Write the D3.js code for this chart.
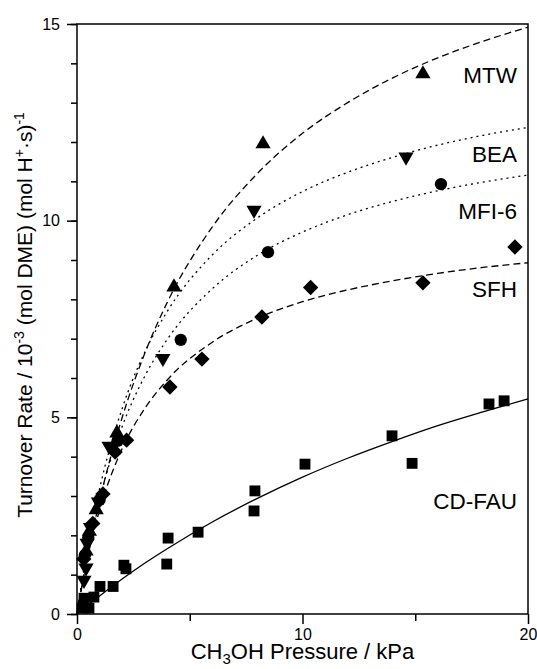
<!DOCTYPE html>
<html>
<head>
<meta charset="utf-8">
<script src="https://d3js.org/d3.v7.min.js"></script>
<style>
  body { margin: 0; background: #fff; }
  svg { display: block; font-family: "Liberation Sans", Arial, sans-serif; }
</style>
</head>
<body>
<div id="chart"></div>
<script>
// measured points (CH3OH pressure kPa, turnover rate 10^-3)
var mtwPts = [[0.4,1.6],[0.55,2.1],[0.85,2.65],[1.77,4.6],[4.3,8.31],[8.25,11.95],[15.34,13.73]];
var beaPts = [[0.31,0.86],[0.4,1.17],[0.45,1.8],[0.6,2.2],[0.95,2.85],[1.42,4.27],[3.81,6.5],[7.85,10.27],[14.59,11.62]];
var mfiPts = [[0.35,1.5],[0.5,1.95],[1.0,2.9],[1.8,4.4],[4.6,6.97],[8.47,9.2],[16.14,10.93]];
var sfhPts = [[0.3,1.4],[0.7,2.3],[1.15,3.05],[1.69,4.12],[2.2,4.42],[4.12,5.77],[5.54,6.48],[8.2,7.55],[10.36,8.3],[15.34,8.42],[19.42,9.33]];
var fauPts = [[0.22,0.15],[0.53,0.15],[0.31,0.4],[0.75,0.43],[1.02,0.7],[1.6,0.7],[2.08,1.24],[2.17,1.15],[3.98,1.27],[4.04,1.93],[5.37,2.08],[7.85,2.62],[7.89,3.13],[10.11,3.81],[13.97,4.53],[14.86,3.83],[18.27,5.34],[18.94,5.42]];

// fitted curves
var fitX   = [0, 0.25, 0.5, 1, 2, 3, 4, 6, 8, 10, 12, 14, 16, 18, 20];
var mtwFit = [0, 0.81, 1.55, 2.87, 4.99, 6.62, 7.92, 9.84, 11.2, 12.22, 13.0, 13.63, 14.14, 14.56, 14.92];
var beaFit = [0, 0.95, 1.79, 3.18, 5.22, 6.65, 7.69, 9.13, 10.07, 10.74, 11.23, 11.61, 11.92, 12.17, 12.37];
var mfiFit = [0, 0.87, 1.63, 2.91, 4.76, 6.04, 6.98, 8.27, 9.12, 9.71, 10.15, 10.49, 10.76, 10.98, 11.16];
var sfhFit = [0, 0.82, 1.52, 2.64, 4.2, 5.22, 5.95, 6.91, 7.52, 7.94, 8.24, 8.47, 8.66, 8.81, 8.93];
var fauFit = [0, 0.12, 0.235, 0.46, 0.89, 1.29, 1.66, 2.34, 2.94, 3.48, 3.96, 4.39, 4.79, 5.14, 5.47];

var xMajor = [0, 10, 20];
var xMinor = [5, 15];
var yMajor = [0, 5, 10, 15];
var yMinor = d3.range(0, 16);

var seriesNames = ["MTW", "BEA", "MFI-6", "SFH", "CD-FAU"];
var labelY = [13.5, 11.5, 10.05, 8.05, 2.67];

var W = 537, H = 669;
var margin = {top: 24, right: 9, bottom: 55, left: 77};
var width = W - margin.left - margin.right;
var height = H - margin.top - margin.bottom;

var svg = d3.select("#chart").append("svg")
    .attr("width", W)
    .attr("height", H);
var g = svg.append("g")
    .attr("transform", "translate(" + margin.left + "," + margin.top + ")");

var x = d3.scaleLinear().domain([0, 20]).range([0, width]);
var y = d3.scaleLinear().domain([0, 15]).range([height, 0]);

// axes
var yMin = g.append("g").call(d3.axisLeft(y).tickValues(yMinor).tickSize(6).tickFormat(""));
var yMaj = g.append("g").call(d3.axisLeft(y).tickValues(yMajor).tickSize(10).tickPadding(7).tickFormat(d3.format("d")));
var xMin = g.append("g").attr("transform", "translate(0," + height + ")")
    .call(d3.axisBottom(x).tickValues(xMinor).tickSize(7).tickFormat(""));
var xMaj = g.append("g").attr("transform", "translate(0," + height + ")")
    .call(d3.axisBottom(x).tickValues(xMajor).tickSize(10).tickPadding(5).tickFormat(d3.format("d")));

[yMin, yMaj, xMin, xMaj].forEach(function(a) {
  a.select(".domain").remove();
  a.selectAll("line").attr("stroke", "#000").attr("stroke-width", 1.5);
  a.selectAll("text").attr("font-size", 16).attr("fill", "#000")
    .attr("font-family", "Liberation Sans, Arial, sans-serif");
});

g.append("rect")
    .attr("width", width).attr("height", height)
    .attr("fill", "none").attr("stroke", "#000").attr("stroke-width", 1.5);

// fitted curves
var line = d3.line()
    .x(function(d) { return x(d[0]); })
    .y(function(d) { return y(d[1]); })
    .curve(d3.curveMonotoneX);

var fits = [mtwFit, beaFit, mfiFit, sfhFit, fauFit];
var dashes = ["7,4", "2,4", "2,4", "7,4", null];
fits.forEach(function(f, i) {
  g.append("path")
    .datum(fitX.map(function(v, j) { return [v, f[j]]; }))
    .attr("d", line)
    .attr("fill", "none")
    .attr("stroke", "#000")
    .attr("stroke-width", 1.3)
    .attr("stroke-dasharray", dashes[i]);
});

// markers
var symTri = d3.symbol().type(d3.symbolTriangle).size(100)();
var symCirc = d3.symbol().type(d3.symbolCircle).size(120)();
var symSq = d3.symbol().type(d3.symbolSquare).size(118)();

function drawPts(pts, path, rot) {
  g.selectAll(null).data(pts).enter().append("path")
    .attr("d", path)
    .attr("transform", function(d) {
      return "translate(" + x(d[0]) + "," + y(d[1]) + ")" + (rot ? " rotate(" + rot + ")" : "");
    })
    .attr("fill", "#000");
}
drawPts(fauPts, symSq, 0);
drawPts(sfhPts, symSq, 45);
drawPts(mfiPts, symCirc, 0);
drawPts(beaPts, symTri, 180);
drawPts(mtwPts, symTri, 0);

// series labels
g.selectAll(".lab").data(seriesNames).enter().append("text")
    .attr("class", "lab")
    .attr("x", width - 11)
    .attr("y", function(d, i) { return y(labelY[i]); })
    .attr("text-anchor", "end")
    .attr("font-size", 22.5)
    .text(function(d) { return d; });

// axis titles
var xt = svg.append("text")
    .attr("x", margin.left + width / 2)
    .attr("y", 659)
    .attr("text-anchor", "middle")
    .attr("font-size", 22);
xt.append("tspan").text("CH");
xt.append("tspan").attr("dy", 5).attr("font-size", 15).text("3");
xt.append("tspan").attr("dy", -5).text("OH Pressure / kPa");

var yt = svg.append("text")
    .attr("transform", "translate(32," + (margin.top + height / 2 - 4) + ") rotate(-90)")
    .attr("text-anchor", "middle")
    .attr("font-size", 21);
yt.append("tspan").text("Turnover Rate / 10");
yt.append("tspan").attr("dy", -8).attr("font-size", 14).text("-3");
yt.append("tspan").attr("dy", 8).text(" (mol DME) (mol H");
yt.append("tspan").attr("dy", -8).attr("font-size", 14).text("+");
yt.append("tspan").attr("dy", 8).text("\u00b7s)");
yt.append("tspan").attr("dy", -8).attr("font-size", 14).text("-1");
</script>
</body>
</html>
